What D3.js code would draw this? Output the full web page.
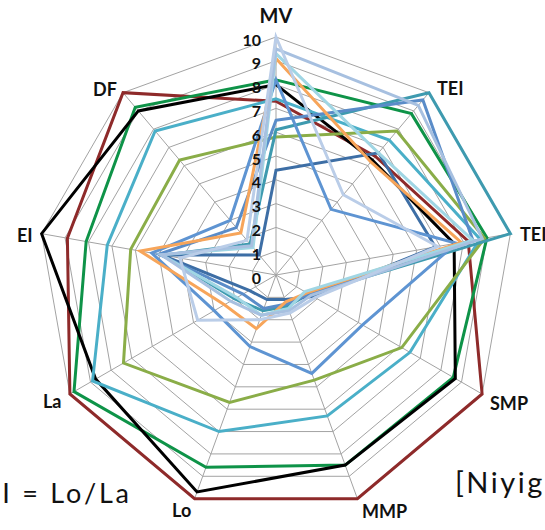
<!DOCTYPE html>
<html>
<head>
<meta charset="utf-8">
<script src="https://cdn.jsdelivr.net/npm/d3@7"></script>
<style>
  html, body { margin: 0; padding: 0; background: #fff; overflow: hidden; }
  svg { display: block; }
  text { font-family: Lato, "Open Sans", sans-serif; }
</style>
</head>
<body>
<svg id="chart" width="545" height="530"></svg>
<script>
// Axes of the radar, clockwise from the top
const axes = ["MV", "TEI", "TEI", "SMP", "MMP", "Lo", "La", "EI", "DF"];
const tickValues = [0, 1, 2, 3, 4, 5, 6, 7, 8, 9, 10];

// One value per axis for every profile
const redValues       = [7.3, 6.5, 8.2, 10, 10, 10, 10, 8.9, 10];
const blackValues     = [8.0, 6.3, 7.6, 8.7, 8.5, 9.7, 8.75, 10, 9.0];
const greenValues     = [8.2, 8.85, 9.0, 8.6, 8.5, 8.6, 9.8, 8.1, 9.2];
const tealValues      = [7.4, 7.4, 8.7, 6.5, 6.3, 7.0, 8.9, 7.2, 7.9];
const oliveValues     = [5.8, 7.9, 8.9, 6.1, 4.7, 5.7, 7.4, 6.2, 6.3];
const deepTealValues  = [6.1, 10, 10, 1.6, 1.4, 1.6, 2.0, 4.8, 1.7];
const orangeValues    = [9.1, 6.2, 7.9, 1.5, 1.2, 2.4, 2.5, 5.8, 2.3];
const darkBlueValues  = [4.4, 6.7, 6.8, 1.8, 1.1, 1.1, 1.3, 4.9, 1.1];
const midBlueValues   = [8.2, 3.6, 7.7, 4.2, 4.4, 3.2, 3.0, 5.3, 3.0];
const steelBlueValues = [6.5, 9.6, 8.4, 1.6, 1.3, 1.5, 1.6, 5.0, 2.6];
const cyanValues      = [9.3, 6.7, 8.4, 1.4, 1.5, 1.8, 1.9, 4.9, 1.5];
const paleBlueValues  = [9.5, 9.3, 8.8, 1.7, 1.6, 1.8, 2.2, 4.9, 1.6];
const lavenderValues  = [10, 4.4, 6.9, 1.9, 1.7, 2.0, 3.8, 4.1, 1.9];

const series = [
  { values: redValues,       color: "#8E2A2A" },
  { values: greenValues,     color: "#0E9348" },
  { values: blackValues,     color: "#000000" },
  { values: tealValues,      color: "#4AAFC8" },
  { values: oliveValues,     color: "#8AAD48" },
  { values: deepTealValues,  color: "#3E9AAF" },
  { values: darkBlueValues,  color: "#3D6EA5" },
  { values: midBlueValues,   color: "#5E94D2" },
  { values: steelBlueValues, color: "#5A8CC8" },
  { values: orangeValues,    color: "#F7A55A" },
  { values: cyanValues,      color: "#A0D6E4" },
  { values: paleBlueValues,  color: "#A7C0E0" },
  { values: lavenderValues,  color: "#BACDE8" }
];

const svg = d3.select("#chart");
const cx = 276, cy = 275, R = 238;

const r = d3.scaleLinear().domain([0, 10]).range([0, R]);
const angle = d3.scaleLinear().domain([0, axes.length]).range([0, 2 * Math.PI]);

const g = svg.append("g").attr("transform", `translate(${cx},${cy})`);

const pt = (i, v) => [Math.sin(angle(i)) * r(v), -Math.cos(angle(i)) * r(v)];

// Grid rings
const ring = d3.lineRadial()
  .angle((d, i) => angle(i))
  .radius(d => r(d))
  .curve(d3.curveLinearClosed);

g.append("g").selectAll("path")
  .data(tickValues.filter(v => v > 0))
  .join("path")
  .attr("d", v => ring(axes.map(() => v)))
  .attr("fill", "none")
  .attr("stroke", "#A3A3A3")
  .attr("stroke-width", 1);

// Spokes
g.append("g").selectAll("line")
  .data(axes)
  .join("line")
  .attr("x1", 0).attr("y1", 0)
  .attr("x2", (d, i) => pt(i, 10)[0])
  .attr("y2", (d, i) => pt(i, 10)[1])
  .attr("stroke", "#A3A3A3")
  .attr("stroke-width", 1);

// Profiles
const profile = d3.lineRadial()
  .angle((d, i) => angle(i))
  .radius(d => r(d))
  .curve(d3.curveLinearClosed);

g.append("g").selectAll("path")
  .data(series)
  .join("path")
  .attr("d", s => profile(s.values))
  .attr("fill", "none")
  .attr("stroke", s => s.color)
  .attr("stroke-width", 3)
  .attr("stroke-linejoin", "miter");

// Scale labels along the MV spoke
g.append("g").selectAll("text")
  .data(tickValues)
  .join("text")
  .attr("x", -15)
  .attr("y", v => -r(v) + 2)
  .attr("text-anchor", "end")
  .attr("dominant-baseline", "central")
  .attr("font-size", 16)
  .attr("font-weight", "bold")
  .attr("fill", "#111")
  .text(v => v);

// Axis labels
const labelPos = [
  { x: 276, y: 23, anchor: "middle" },
  { x: 437, y: 95, anchor: "start" },
  { x: 520, y: 241, anchor: "start" },
  { x: 490, y: 410, anchor: "start" },
  { x: 362, y: 518, anchor: "start" },
  { x: 172, y: 517, anchor: "start" },
  { x: 43,  y: 408, anchor: "start" },
  { x: 17,  y: 242, anchor: "start" },
  { x: 93,  y: 96,  anchor: "start" }
];

svg.append("g").selectAll("text")
  .data(axes)
  .join("text")
  .attr("x", (d, i) => labelPos[i].x)
  .attr("y", (d, i) => labelPos[i].y)
  .attr("text-anchor", (d, i) => labelPos[i].anchor)
  .attr("font-size", (d, i) => i === 0 ? 20 : 18)
  .attr("font-weight", "bold")
  .attr("fill", "#111")
  .text(d => d);

// Footnotes (both run past the frame edges)
svg.append("text")
  .attr("x", -16).attr("y", 503)
  .attr("font-size", 27)
  .attr("textLength", 145)
  .attr("lengthAdjust", "spacing")
  .attr("fill", "#111")
  .text("EI = Lo/La");

svg.append("text")
  .attr("x", 455).attr("y", 493)
  .attr("font-size", 29)
  .attr("letter-spacing", 2.5)
  .attr("fill", "#111")
  .text("[Niyigena et al.]");
</script>
</body>
</html>
